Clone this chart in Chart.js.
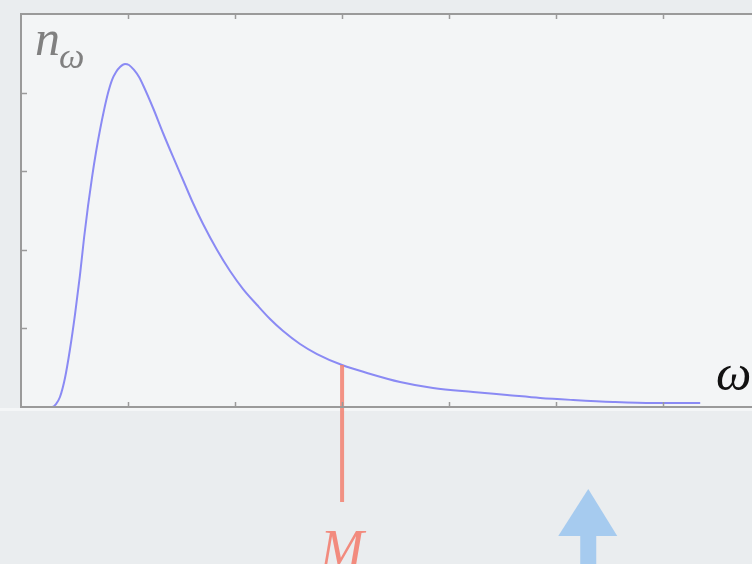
<!DOCTYPE html>
<html>
<head>
<meta charset="utf-8">
<script src="https://cdn.jsdelivr.net/npm/chart.js@4/dist/chart.umd.min.js"></script>
<style>
  html, body { margin: 0; padding: 0; background: #eceef0; overflow: hidden; }
  #wrap { width: 752px; height: 564px; position: relative; }
</style>
</head>
<body>
<div id="wrap"><canvas id="c" width="752" height="564"></canvas></div>
<script>
// Spectrum n(omega): frequency values and occupation values
const omega = [0, 0.290, 0.327, 0.364, 0.411, 0.458, 0.505, 0.551, 0.589, 0.626, 0.664, 0.701,
  0.738, 0.776, 0.813, 0.850, 0.888, 0.925, 0.972, 1.009, 1.056, 1.103, 1.140, 1.234, 1.327,
  1.421, 1.514, 1.607, 1.701, 1.832, 1.953, 2.075, 2.206, 2.327, 2.449, 2.607, 2.766, 3.0,
  3.234, 3.542, 3.850, 4.224, 4.542, 4.850, 5.159, 5.533, 5.907, 6.346];
const nOmega = [0, 0, 0.038, 0.127, 0.369, 0.738, 1.183, 1.679, 2.150, 2.557, 2.926, 3.244,
  3.524, 3.779, 3.995, 4.160, 4.262, 4.326, 4.364, 4.351, 4.288, 4.198, 4.097, 3.804, 3.486,
  3.181, 2.888, 2.595, 2.328, 1.997, 1.730, 1.501, 1.298, 1.120, 0.967, 0.802, 0.674, 0.534,
  0.433, 0.318, 0.242, 0.191, 0.153, 0.115, 0.089, 0.064, 0.051, 0.051];

// Marker M on the frequency axis, and where the arrow points
const markM = 3.0;
const markMValue = 0.534;
const markMBottom = -1.21;
const arrowOmega = 5.30;

const xTicks = [1, 2, 3, 4, 5, 6];
const yTicks = [1, 2, 3, 4];
const xMax = 6.83, yMax = 5;

const curve = omega.map((x, i) => ({ x: x, y: nOmega[i] }));
const mLine = [{ x: markM, y: markMBottom }, { x: markM, y: markMValue }];

const frame = {
  id: 'frame',
  beforeDraw(chart) {
    const { ctx, chartArea: a, width, height } = chart;
    ctx.save();
    ctx.fillStyle = '#eaedef';
    ctx.fillRect(0, 0, width, height);
    ctx.fillStyle = '#f3f5f6';
    ctx.fillRect(a.left, a.top, a.right - a.left, a.bottom - a.top);
    ctx.fillStyle = '#f4f6f7';
    ctx.fillRect(0, a.bottom + 1, width, 3);
    ctx.restore();
  },
  afterDatasetsDraw(chart) {
    const { ctx, chartArea: a, scales: { x, y } } = chart;
    ctx.save();
    // frame
    ctx.strokeStyle = '#9a9a9a';
    ctx.lineWidth = 2;
    ctx.beginPath();
    ctx.moveTo(a.right + 2, a.top);
    ctx.lineTo(a.left, a.top);
    ctx.lineTo(a.left, a.bottom);
    ctx.lineTo(a.right + 2, a.bottom);
    ctx.stroke();
    // inward ticks
    ctx.lineWidth = 1.5;
    ctx.beginPath();
    xTicks.forEach(v => {
      const px = Math.round(x.getPixelForValue(v)) + 0.5;
      ctx.moveTo(px, a.bottom); ctx.lineTo(px, a.bottom - 5);
      ctx.moveTo(px, a.top); ctx.lineTo(px, a.top + 5);
    });
    yTicks.forEach(v => {
      const py = Math.round(y.getPixelForValue(v)) + 0.5;
      ctx.moveTo(a.left, py); ctx.lineTo(a.left + 6, py);
    });
    ctx.stroke();

    // arrow below the axis
    const ax = x.getPixelForValue(arrowOmega);
    ctx.fillStyle = '#a6cbef';
    ctx.beginPath();
    ctx.moveTo(ax, 489);
    ctx.lineTo(ax + 29, 536);
    ctx.lineTo(ax - 30, 536);
    ctx.closePath();
    ctx.fill();
    ctx.fillRect(ax - 8, 536, 16, 30);

    // labels
    ctx.textBaseline = 'alphabetic';
    ctx.fillStyle = '#808080';
    ctx.font = 'italic 50px "Liberation Serif", "DejaVu Serif", serif';
    ctx.fillText('n', 35, 55);
    ctx.font = 'italic 36px "Liberation Serif", "DejaVu Serif", serif';
    ctx.fillText('ω', 59, 68);

    ctx.fillStyle = '#111111';
    ctx.font = 'italic 50px "Liberation Serif", "DejaVu Serif", serif';
    ctx.fillText('ω', 716, 390);

    ctx.fillStyle = '#f28b7e';
    ctx.font = 'italic 52px "Liberation Serif", "DejaVu Serif", serif';
    ctx.textAlign = 'center';
    ctx.fillText('M', x.getPixelForValue(markM), 566);
    ctx.restore();
  }
};

new Chart(document.getElementById('c'), {
  type: 'line',
  data: {
    datasets: [
      {
        data: curve,
        borderColor: '#8a8af4',
        borderWidth: 2,
        pointRadius: 0,
        cubicInterpolationMode: 'monotone',
        fill: false,
        order: 2
      },
      {
        data: mLine,
        borderColor: 'rgba(242,128,112,0.85)',
        borderWidth: 4,
        pointRadius: 0,
        clip: false,
        fill: false,
        order: 1
      }
    ]
  },
  options: {
    responsive: false,
    animation: false,
    layout: { padding: { left: 21, top: 14, right: 0, bottom: 157 } },
    plugins: { legend: { display: false }, tooltip: { enabled: false } },
    scales: {
      x: { type: 'linear', min: 0, max: xMax, display: false },
      y: { type: 'linear', min: 0, max: yMax, display: false }
    }
  },
  plugins: [frame]
});
</script>
</body>
</html>
